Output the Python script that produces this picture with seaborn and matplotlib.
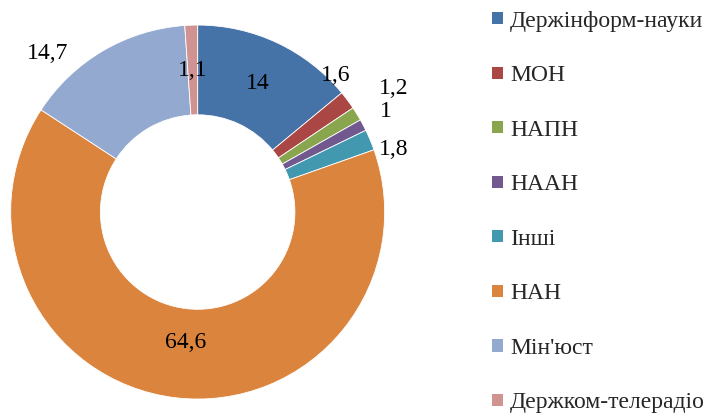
import numpy as np
import matplotlib
matplotlib.use("Agg")
import matplotlib.pyplot as plt
import seaborn as sns
from matplotlib.patches import Patch

# Data
categories = ['Держінформ-науки', 'МОН', 'НАПН', 'НААН', 'Інші', 'НАН',
              "Мін'юст", 'Держком-телерадіо']
values = [14, 1.6, 1.2, 1, 1.8, 64.6, 14.7, 1.1]
value_labels = ['14', '1,6', '1,2', '1', '1,8', '64,6', '14,7', '1,1']

# label placement (radius in pie units, angular nudge in degrees)
label_radius = [0.76, 1.04, 1.24, 1.14, 1.10, 0.70, 1.17, 0.76]
label_shift = [0, 8, 0.5, 0.3, -5, 1.5, 13, 0]

colors = ['#4572A7', '#AA4643', '#89A54E', '#71588F', '#4198AF',
          '#DB843D', '#93A9CF', '#D19392']

sns.set_theme(style="white")
FONT = 'Liberation Serif'
plt.rcParams['font.family'] = FONT

fig = plt.figure(figsize=(7.11, 4.17), dpi=100)
ax = fig.add_axes([0.015, 0.043, 0.526, 0.897])

wedges, _ = ax.pie(values, colors=colors, startangle=90, counterclock=False,
                   radius=1.0, wedgeprops=dict(width=0.48, edgecolor='white', linewidth=0.6))
ax.set_xlim(-1, 1)
ax.set_ylim(-1, 1)
ax.set_aspect('equal')
ax.axis('off')

# data labels
for w, lab, r, s in zip(wedges, value_labels, label_radius, label_shift):
    ang = np.deg2rad((w.theta1 + w.theta2) / 2 + s)
    ax.text(r * np.cos(ang), r * np.sin(ang), lab, ha='center', va='center',
            fontsize=17, color='black', family=FONT)

handles = [Patch(facecolor=c, edgecolor='none') for c in colors]
fig.legend(handles, categories, loc='upper left', bbox_to_anchor=(0.679, 0.997),
           frameon=False, prop={'family': FONT, 'size': 17}, labelspacing=1.42,
           handlelength=0.46, handleheight=0.42, handletextpad=0.3, borderaxespad=0)

fig.savefig('out.png', dpi=100)
